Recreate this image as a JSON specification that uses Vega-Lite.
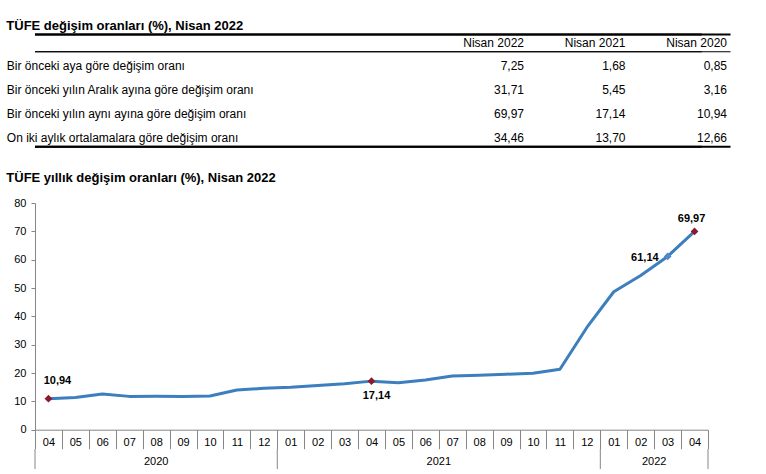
{
  "$schema": "https://vega.github.io/schema/vega-lite/v6.json",
  "background": "white",
  "padding": {"left": 6, "top": 19, "right": 5, "bottom": 0},
  "config": {
    "font": "Liberation Sans",
    "view": {"stroke": null},
    "locale": {"number": {"decimal": ",", "thousands": ".", "grouping": [3], "currency": ["", " TL"]}}
  },
  "datasets": {
    "tablo": [
      {"gosterge": "Bir önceki aya göre değişim oranı", "donem": "Nisan 2022", "oran": 7.25},
      {"gosterge": "Bir önceki aya göre değişim oranı", "donem": "Nisan 2021", "oran": 1.68},
      {"gosterge": "Bir önceki aya göre değişim oranı", "donem": "Nisan 2020", "oran": 0.85},
      {"gosterge": "Bir önceki yılın Aralık ayına göre değişim oranı", "donem": "Nisan 2022", "oran": 31.71},
      {"gosterge": "Bir önceki yılın Aralık ayına göre değişim oranı", "donem": "Nisan 2021", "oran": 5.45},
      {"gosterge": "Bir önceki yılın Aralık ayına göre değişim oranı", "donem": "Nisan 2020", "oran": 3.16},
      {"gosterge": "Bir önceki yılın aynı ayına göre değişim oranı", "donem": "Nisan 2022", "oran": 69.97},
      {"gosterge": "Bir önceki yılın aynı ayına göre değişim oranı", "donem": "Nisan 2021", "oran": 17.14},
      {"gosterge": "Bir önceki yılın aynı ayına göre değişim oranı", "donem": "Nisan 2020", "oran": 10.94},
      {"gosterge": "On iki aylık ortalamalara göre değişim oranı", "donem": "Nisan 2022", "oran": 34.46},
      {"gosterge": "On iki aylık ortalamalara göre değişim oranı", "donem": "Nisan 2021", "oran": 13.70},
      {"gosterge": "On iki aylık ortalamalara göre değişim oranı", "donem": "Nisan 2020", "oran": 12.66}
    ],
    "seri": [
      {"donem": "2020-04", "yil": "2020", "oran": 10.94},
      {"donem": "2020-05", "yil": "2020", "oran": 11.39},
      {"donem": "2020-06", "yil": "2020", "oran": 12.62},
      {"donem": "2020-07", "yil": "2020", "oran": 11.76},
      {"donem": "2020-08", "yil": "2020", "oran": 11.77},
      {"donem": "2020-09", "yil": "2020", "oran": 11.75},
      {"donem": "2020-10", "yil": "2020", "oran": 11.89},
      {"donem": "2020-11", "yil": "2020", "oran": 14.03},
      {"donem": "2020-12", "yil": "2020", "oran": 14.60},
      {"donem": "2021-01", "yil": "2021", "oran": 14.97},
      {"donem": "2021-02", "yil": "2021", "oran": 15.61},
      {"donem": "2021-03", "yil": "2021", "oran": 16.19},
      {"donem": "2021-04", "yil": "2021", "oran": 17.14},
      {"donem": "2021-05", "yil": "2021", "oran": 16.59},
      {"donem": "2021-06", "yil": "2021", "oran": 17.53},
      {"donem": "2021-07", "yil": "2021", "oran": 18.95},
      {"donem": "2021-08", "yil": "2021", "oran": 19.25},
      {"donem": "2021-09", "yil": "2021", "oran": 19.58},
      {"donem": "2021-10", "yil": "2021", "oran": 19.89},
      {"donem": "2021-11", "yil": "2021", "oran": 21.31},
      {"donem": "2021-12", "yil": "2021", "oran": 36.08},
      {"donem": "2022-01", "yil": "2022", "oran": 48.69},
      {"donem": "2022-02", "yil": "2022", "oran": 54.44},
      {"donem": "2022-03", "yil": "2022", "oran": 61.14},
      {"donem": "2022-04", "yil": "2022", "oran": 69.97}
    ]
  },
  "columns": 1,
  "bounds": "full",
  "spacing": 24,
  "concat": [
    {
      "title": {"text": "TÜFE değişim oranları (%), Nisan 2022", "anchor": "start", "frame": "group", "dx": -28.7, "fontSize": 13, "fontWeight": "bold", "color": "#000000", "baseline": "alphabetic", "offset": -14.5},
      "width": 695.5,
      "height": 118.75,
      "data": {"name": "tablo"},
      "layer": [
        {
          "mark": {"type": "text", "align": "right", "baseline": "alphabetic", "dx": -3.5, "fontSize": 12, "color": "#000000"},
          "encoding": {
            "x": {"field": "donem", "type": "nominal", "bandPosition": 1,
                  "scale": {"type": "band", "domain": ["Nisan 2022", "Nisan 2021", "Nisan 2020"], "range": [391, 695.5], "paddingInner": 0, "paddingOuter": 0},
                  "axis": null},
            "y": {"field": "gosterge", "type": "nominal", "bandPosition": 0.78,
                  "scale": {"type": "band", "domain": ["başlık", "Bir önceki aya göre değişim oranı", "Bir önceki yılın Aralık ayına göre değişim oranı", "Bir önceki yılın aynı ayına göre değişim oranı", "On iki aylık ortalamalara göre değişim oranı"], "paddingInner": 0, "paddingOuter": 0},
                  "axis": {"orient": "left", "title": null, "domain": false, "ticks": false, "tickSize": 0, "grid": false, "labelPadding": 28.7, "labelAlign": "left", "labelBaseline": "alphabetic", "labelOffset": 6.65, "labelFontSize": 12, "labelColor": "#000000", "labelLimit": 0,
                           "values": ["Bir önceki aya göre değişim oranı", "Bir önceki yılın Aralık ayına göre değişim oranı", "Bir önceki yılın aynı ayına göre değişim oranı", "On iki aylık ortalamalara göre değişim oranı"]}},
            "text": {"field": "oran", "type": "quantitative", "format": ".2f"}
          }
        },
        {
          "transform": [{"aggregate": [{"op": "count", "as": "n"}], "groupby": ["donem"]}],
          "mark": {"type": "text", "align": "right", "baseline": "alphabetic", "dx": -3.5, "fontSize": 12, "color": "#000000"},
          "encoding": {
            "x": {"field": "donem", "type": "nominal", "bandPosition": 1},
            "y": {"datum": "başlık", "type": "nominal", "bandPosition": 0.78},
            "text": {"field": "donem", "type": "nominal"}
          }
        },
        {
          "transform": [{"aggregate": [{"op": "count", "as": "n"}]}],
          "mark": {"type": "rule", "color": "#000000", "strokeWidth": 2, "xOffset": -28.7},
          "encoding": {"y": {"datum": "başlık", "type": "nominal", "bandPosition": 0.27}}
        },
        {
          "transform": [{"aggregate": [{"op": "count", "as": "n"}]}],
          "mark": {"type": "rule", "color": "#000000", "strokeWidth": 2},
          "encoding": {"y": {"datum": "başlık", "type": "nominal", "bandPosition": 0.27}}
        },
        {
          "transform": [{"aggregate": [{"op": "count", "as": "n"}]}],
          "mark": {"type": "rule", "color": "#000000", "strokeWidth": 1, "xOffset": -28.7},
          "encoding": {"y": {"datum": "başlık", "type": "nominal", "bandPosition": 1}}
        },
        {
          "transform": [{"aggregate": [{"op": "count", "as": "n"}]}],
          "mark": {"type": "rule", "color": "#000000", "strokeWidth": 1},
          "encoding": {"y": {"datum": "başlık", "type": "nominal", "bandPosition": 1}}
        },
        {
          "transform": [{"aggregate": [{"op": "count", "as": "n"}]}],
          "mark": {"type": "rule", "color": "#000000", "strokeWidth": 2, "xOffset": -28.7},
          "encoding": {"y": {"datum": "On iki aylık ortalamalara göre değişim oranı", "type": "nominal", "bandPosition": 1}}
        },
        {
          "transform": [{"aggregate": [{"op": "count", "as": "n"}]}],
          "mark": {"type": "rule", "color": "#000000", "strokeWidth": 2},
          "encoding": {"y": {"datum": "On iki aylık ortalamalara göre değişim oranı", "type": "nominal", "bandPosition": 1}}
        }
      ]
    },
    {
      "bounds": "flush",
      "spacing": 19,
      "resolve": {"scale": {"x": "shared"}},
      "vconcat": [
        {
          "title": {"text": "TÜFE yıllık değişim oranları (%), Nisan 2022", "anchor": "start", "frame": "group", "dx": -28.7, "fontSize": 13, "fontWeight": "bold", "color": "#000000", "baseline": "alphabetic", "offset": 2},
          "width": 673,
          "height": 226.7,
          "data": {"name": "seri"},
          "encoding": {
            "x": {"field": "donem", "type": "ordinal", "scale": {"type": "band", "paddingInner": 0, "paddingOuter": 0},
                  "axis": {"title": null, "labelExpr": "datum.value ? slice(datum.value, 5) : ''", "tickBand": "extent", "tickSize": 19, "labelPadding": -12, "labelAngle": 0, "labelFontSize": 11, "labelColor": "#000000", "tickColor": "#868686", "domainColor": "#868686", "grid": false}},
            "y": {"field": "oran", "type": "quantitative", "scale": {"domain": [0, 80], "nice": false},
                  "axis": {"title": null, "values": [0, 10, 20, 30, 40, 50, 60, 70, 80], "tickSize": 4, "labelPadding": 5, "labelFontSize": 11, "labelColor": "#000000", "tickColor": "#868686", "domainColor": "#868686", "grid": false}}
          },
          "layer": [
            {"mark": {"type": "line", "color": "#3C7EBE", "strokeWidth": 3, "strokeJoin": "round"}},
            {
              "transform": [{"filter": "slice(datum.donem, 5) == '04'"}],
              "mark": {"type": "point", "shape": "diamond", "filled": true, "color": "#8B1A2E", "size": 60, "opacity": 1}
            },
            {
              "transform": [{"filter": {"field": "donem", "equal": "2022-03"}}],
              "mark": {"type": "point", "shape": "diamond", "filled": true, "color": "#4F89C9", "size": 60, "opacity": 1}
            },
            {
              "transform": [{"filter": {"field": "donem", "equal": "2020-04"}}],
              "mark": {"type": "text", "fontSize": 11, "fontWeight": "bold", "color": "#000000", "baseline": "middle", "dx": 9, "dy": -18},
              "encoding": {"text": {"field": "oran", "type": "quantitative", "format": ".2f"}}
            },
            {
              "transform": [{"filter": {"field": "donem", "equal": "2021-04"}}],
              "mark": {"type": "text", "fontSize": 11, "fontWeight": "bold", "color": "#000000", "baseline": "middle", "dx": 5, "dy": 15},
              "encoding": {"text": {"field": "oran", "type": "quantitative", "format": ".2f"}}
            },
            {
              "transform": [{"filter": {"field": "donem", "equal": "2022-03"}}],
              "mark": {"type": "text", "fontSize": 11, "fontWeight": "bold", "color": "#000000", "baseline": "middle", "align": "right", "dx": -9, "dy": 2},
              "encoding": {"text": {"field": "oran", "type": "quantitative", "format": ".2f"}}
            },
            {
              "transform": [{"filter": {"field": "donem", "equal": "2022-04"}}],
              "mark": {"type": "text", "fontSize": 11, "fontWeight": "bold", "color": "#000000", "baseline": "middle", "dx": -3, "dy": -12},
              "encoding": {"text": {"field": "oran", "type": "quantitative", "format": ".2f"}}
            }
          ]
        },
        {
          "width": 673,
          "height": 20,
          "data": {"name": "seri"},
          "layer": [
            {
              "transform": [
                {"window": [{"op": "row_number", "as": "sira"}], "groupby": ["yil"], "sort": [{"field": "donem", "order": "ascending"}]},
                {"filter": "datum.sira == 1"}
              ],
              "mark": {"type": "rule", "color": "#868686", "strokeWidth": 1},
              "encoding": {"x": {"field": "donem", "type": "ordinal", "bandPosition": 0, "axis": null}}
            },
            {
              "transform": [
                {"window": [{"op": "row_number", "as": "sira"}], "sort": [{"field": "donem", "order": "descending"}]},
                {"filter": "datum.sira == 1"}
              ],
              "mark": {"type": "rule", "color": "#868686", "strokeWidth": 1},
              "encoding": {"x": {"field": "donem", "type": "ordinal", "bandPosition": 1, "axis": null}}
            },
            {
              "transform": [
                {"joinaggregate": [{"op": "count", "as": "n"}], "groupby": ["yil"]},
                {"window": [{"op": "row_number", "as": "sira"}], "groupby": ["yil"], "sort": [{"field": "donem", "order": "ascending"}]},
                {"filter": "datum.n % 2 == 1 && datum.sira == (datum.n + 1) / 2"}
              ],
              "mark": {"type": "text", "fontSize": 11, "color": "#000000", "baseline": "middle", "dy": 2.5},
              "encoding": {
                "x": {"field": "donem", "type": "ordinal", "bandPosition": 0.5, "axis": null},
                "text": {"field": "yil", "type": "nominal"}
              }
            },
            {
              "transform": [
                {"joinaggregate": [{"op": "count", "as": "n"}], "groupby": ["yil"]},
                {"window": [{"op": "row_number", "as": "sira"}], "groupby": ["yil"], "sort": [{"field": "donem", "order": "ascending"}]},
                {"filter": "datum.n % 2 == 0 && datum.sira == datum.n / 2"}
              ],
              "mark": {"type": "text", "fontSize": 11, "color": "#000000", "baseline": "middle", "dy": 2.5},
              "encoding": {
                "x": {"field": "donem", "type": "ordinal", "bandPosition": 1, "axis": null},
                "text": {"field": "yil", "type": "nominal"}
              }
            }
          ]
        }
      ]
    }
  ]
}
